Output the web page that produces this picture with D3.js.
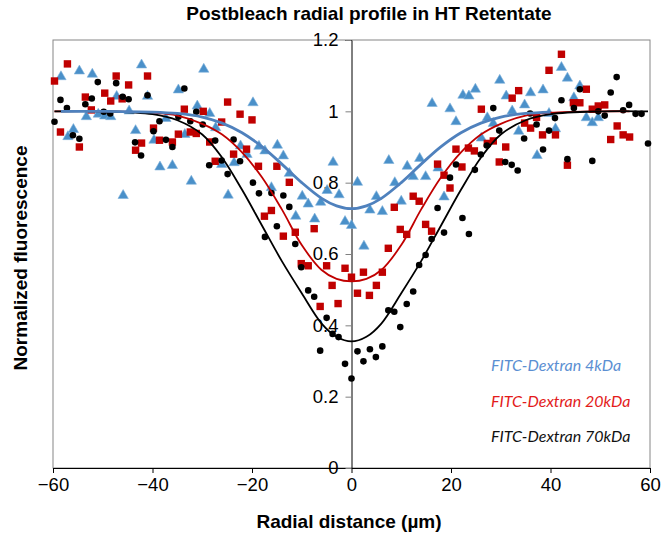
<!DOCTYPE html>
<html>
<head>
<meta charset="utf-8">
<script src="https://cdn.jsdelivr.net/npm/d3@7"></script>
<style>
  body { margin: 0; background: #fff; }
  svg { display: block; }
</style>
</head>
<body>
<div id="chart"></div>
<script>
// x ticks / y ticks
var xTicks = [-60, -40, -20, 0, 20, 40, 60];
var yTicks = [0, 0.2, 0.4, 0.6, 0.8, 1, 1.2];
var yTickLabels = ["0", "0.2", "0.4", "0.6", "0.8", "1", "1.2"];

// measured points [radial distance, normalized fluorescence]
var dex4 = [[-58.4,1.097],[-57.0,0.929],[-55.9,0.949],[-54.7,1.113],[-53.3,0.985],[-52.1,1.104],[-50.9,0.992],
  [-49.6,0.987],[-48.4,0.985],[-47.2,1.042],[-45.9,0.764],[-44.7,1.001],[-43.4,0.946],[-42.2,1.130],[-41.0,1.042],
  [-39.7,0.919],[-38.5,0.844],[-37.3,0.980],[-36.0,0.848],[-34.8,1.060],[-33.5,0.935],[-32.2,0.804],[-31.0,1.015],
  [-29.7,1.118],[-28.5,0.994],[-27.3,0.954],[-26.1,0.851],[-24.8,0.765],[-23.6,0.856],[-22.3,0.903],[-21.0,0.879],
  [-19.8,1.024],[-18.6,0.902],[-17.4,0.889],[-16.1,0.786],[-14.9,0.905],[-13.7,0.875],[-12.5,0.826],[-11.2,0.706],
  [-9.9,0.762],[-8.7,0.740],[-7.4,0.698],[-6.2,0.745],[-4.9,0.778],[-3.7,0.857],[-2.5,0.766],[-1.3,0.691],[0,0.680],
  [1.2,0.801],[2.5,0.622],[3.7,0.723],[5.0,0.761],[6.2,0.719],[7.5,0.862],[8.7,0.800],[10.0,0.748],[11.2,0.846],
  [12.4,0.817],[13.7,0.868],[14.9,0.817],[16.2,1.022],[17.4,0.841],[18.6,0.760],[19.8,1.007],[21.0,0.971],[22.4,1.045],
  [23.6,1.043],[24.9,1.062],[26.1,0.925],[27.3,0.982],[28.5,0.966],[29.8,1.087],[31.1,1.043],[32.3,1.001],[33.6,0.944],
  [34.8,1.018],[36.0,1.052],[37.3,0.876],[38.5,1.060],[39.7,0.994],[41.0,0.951],[42.2,1.123],[43.4,1.093],[44.7,1.038],
  [45.9,1.071],[47.2,0.982],[48.4,0.968],[49.6,0.982]];

var dex20 = [[-59.7,1.085],[-58.5,0.942],[-57.1,1.133],[-54.7,0.900],[-53.5,1.040],[-52.3,1.004],[-49.6,1.051],
  [-48.4,1.029],[-47.3,1.099],[-46.1,1.035],[-44.8,1.074],[-43.4,0.891],[-42.2,0.911],[-41.0,1.099],[-39.8,0.953],
  [-38.6,0.919],[-36.0,0.914],[-34.8,0.936],[-33.6,1.006],[-32.4,0.942],[-31.2,0.938],[-29.8,1.000],[-28.5,0.914],
  [-27.4,0.860],[-26.1,0.970],[-24.9,1.026],[-23.7,0.880],[-22.4,0.992],[-21.1,0.894],[-20.0,0.976],[-18.7,0.846],
  [-17.5,0.706],[-16.1,0.722],[-15.0,0.846],[-13.7,0.650],[-12.5,0.801],[-11.3,0.661],[-10.1,0.573],[-8.7,0.567],
  [-7.5,0.671],[-6.3,0.453],[-5.0,0.567],[-3.9,0.512],[-2.7,0.461],[-1.3,0.560],[0,0.535],[1.2,0.490],[2.4,0.549],
  [3.6,0.484],[5.0,0.512],[6.2,0.549],[7.4,0.616],[8.6,0.731],[9.8,0.669],[11.1,0.655],[12.4,0.762],[13.6,0.748],
  [14.9,0.683],[16.1,0.664],[17.3,0.852],[18.6,0.821],[19.8,0.785],[21.0,0.894],[22.2,0.844],[23.5,0.897],[24.7,0.889],
  [26.1,1.006],[27.3,0.910],[28.5,0.917],[29.7,0.858],[31.0,0.900],[32.3,1.037],[33.6,1.058],[34.8,0.967],[36.0,0.953],
  [37.2,0.983],[38.4,0.934],[39.7,1.115],[41.0,0.934],[42.2,1.160],[43.4,0.849],[44.6,1.024],[45.9,1.024],[47.2,1.062],
  [48.4,1.006],[49.6,1.015],[50.9,1.018],[52.1,0.921],[53.4,0.959],[54.6,0.934],[55.9,0.928]];

var dex70 = [[-59.7,0.971],[-58.5,1.032],[-57.2,1.009],[-56.0,0.933],[-54.7,0.923],[-53.5,1.020],[-52.2,1.036],
  [-51.0,1.082],[-49.8,0.999],[-48.5,0.994],[-47.3,1.079],[-46.0,1.041],[-44.8,1.034],[-43.5,0.913],[-42.3,0.876],
  [-41.0,1.045],[-39.8,0.944],[-38.6,0.972],[-37.3,0.920],[-36.0,0.900],[-34.8,0.985],[-33.6,1.064],[-32.4,0.972],
  [-31.2,0.999],[-29.9,0.963],[-28.6,0.849],[-27.4,0.918],[-26.1,0.862],[-24.9,0.824],[-23.7,0.921],[-22.4,0.860],
  [-19.8,0.800],[-18.6,0.770],[-17.4,0.648],[-16.1,0.771],[-15.0,0.678],[-13.7,0.764],[-12.5,0.732],[-11.3,0.628],
  [-10.1,0.563],[-8.7,0.498],[-7.5,0.480],[-6.3,0.329],[-5.0,0.421],[-3.8,0.376],[-2.6,0.367],[-1.3,0.292],[0,0.251],
  [1.2,0.327],[2.4,0.299],[3.7,0.333],[4.9,0.311],[6.2,0.341],[7.4,0.442],[8.6,0.438],[9.8,0.395],[11.1,0.460],
  [12.4,0.495],[13.6,0.569],[14.9,0.597],[16.1,0.642],[17.3,0.729],[18.6,0.660],[19.8,0.814],[21.0,0.851],[22.3,0.701],
  [23.6,0.656],[24.8,0.836],[26.0,0.879],[27.2,0.904],[28.5,1.009],[29.7,0.946],[30.9,0.858],[32.2,0.850],[33.4,0.834],
  [34.7,0.924],[35.9,0.994],[37.2,0.963],[38.5,0.893],[39.7,0.946],[40.9,0.981],[42.2,1.031],[43.4,0.866],[44.7,1.009],
  [45.9,1.062],[48.4,0.861],[49.6,1.000],[50.9,0.988],[52.1,1.053],[53.3,1.096],[54.6,1.003],[55.8,1.018],[57.1,0.993],
  [58.3,0.993],[59.6,0.910]];

// fitted profiles
var fit4 = [[-58.4,1.0],[-50,1.0],[-40,0.998],[-35,0.994],[-30,0.984],[-26,0.967],[-22,0.940],[-18,0.901],[-14,0.852],
  [-10,0.800],[-6,0.756],[-3,0.735],[0,0.727],[3,0.735],[6,0.756],[10,0.800],[14,0.852],[18,0.901],[22,0.940],
  [26,0.967],[30,0.984],[35,0.994],[40,0.998]];
var fit20 = [[-59.7,1.0],[-50,1.0],[-40,0.996],[-35,0.988],[-30,0.965],[-26,0.935],[-22,0.885],[-18,0.815],[-14,0.725],
  [-10,0.625],[-6,0.555],[-3,0.530],[0,0.523],[3,0.530],[6,0.555],[10,0.625],[14,0.725],[18,0.815],[22,0.885],
  [26,0.935],[30,0.965],[35,0.988],[40,0.996],[50,1.0],[55.9,1.0]];
var fit70 = [[-59.7,1.0],[-50,1.0],[-40,0.992],[-35,0.975],[-30,0.935],[-26,0.870],[-22,0.780],[-18,0.680],[-14,0.580],
  [-10,0.490],[-6,0.405],[-3,0.368],[0,0.355],[3,0.368],[6,0.405],[10,0.490],[14,0.580],[18,0.680],[22,0.780],
  [26,0.870],[30,0.935],[35,0.975],[40,0.992],[50,1.0],[59.6,1.0]];

var legendNames = ["FITC-Dextran 4kDa", "FITC-Dextran 20kDa", "FITC-Dextran 70kDa"];
var legendColors = ["#5b8fd2", "#e31b1b", "#111111"];

var W = 661, H = 537;
var svg = d3.select("#chart").append("svg").attr("width", W).attr("height", H);

var x = d3.scaleLinear().domain([-60, 60]).range([53, 650]);
var y = d3.scaleLinear().domain([0, 1.2]).range([468, 40]);

var sans = "Liberation Sans, Arial, sans-serif";

// plot frame
svg.append("rect")
  .attr("x", x(-60)).attr("y", y(1.2))
  .attr("width", x(60) - x(-60)).attr("height", y(0) - y(1.2))
  .attr("fill", "none").attr("stroke", "#868686").attr("stroke-width", 1);

// x axis
var xAxis = svg.append("g")
  .attr("transform", "translate(0," + y(0) + ")")
  .call(d3.axisBottom(x).tickValues(xTicks).tickSize(5).tickPadding(5).tickFormat(d3.format("d")));
xAxis.select(".domain").attr("stroke", "#000");
xAxis.selectAll("text").attr("font-family", sans)
  .attr("font-size", 18.5).attr("fill", "#000");

// y axis at x = 0
var yAxis = svg.append("g")
  .attr("transform", "translate(" + x(0) + ",0)")
  .call(d3.axisLeft(y).tickValues(yTicks).tickSize(6).tickPadding(7)
    .tickFormat(function (d, i) { return yTickLabels[i]; }));
yAxis.select(".domain").attr("stroke", "#000");
yAxis.selectAll(".tick line").attr("stroke", "#808080");
yAxis.selectAll("text").attr("font-family", sans)
  .attr("font-size", 18.5).attr("fill", "#000");

// markers
svg.append("g").selectAll("path")
  .data(dex4).enter().append("path")
  .attr("d", d3.symbol().type(d3.symbolTriangle).size(46))
  .attr("transform", function (d) { return "translate(" + x(d[0]) + "," + y(d[1]) + ")"; })
  .attr("fill", "#4a90c9").attr("stroke", "#7fb1dc").attr("stroke-width", 0.6);

svg.append("g").selectAll("rect")
  .data(dex20).enter().append("rect")
  .attr("x", function (d) { return x(d[0]) - 3.7; })
  .attr("y", function (d) { return y(d[1]) - 3.7; })
  .attr("width", 7.4).attr("height", 7.4)
  .attr("fill", "#c00000");

svg.append("g").selectAll("circle")
  .data(dex70).enter().append("circle")
  .attr("cx", function (d) { return x(d[0]); })
  .attr("cy", function (d) { return y(d[1]); })
  .attr("r", 3.3)
  .attr("fill", "#000");

// fit lines
var line = d3.line()
  .x(function (d) { return x(d[0]); })
  .y(function (d) { return y(d[1]); })
  .curve(d3.curveCatmullRom.alpha(0.5));

svg.append("path").attr("d", line(fit20)).attr("fill", "none")
  .attr("stroke", "#c00000").attr("stroke-width", 1.8);
svg.append("path").attr("d", line(fit70)).attr("fill", "none")
  .attr("stroke", "#000").attr("stroke-width", 1.8);
svg.append("path").attr("d", line(fit4)).attr("fill", "none")
  .attr("stroke", "#4f81bd").attr("stroke-width", 2.8);

// legend
svg.append("g").selectAll("text")
  .data(legendNames).enter().append("text")
  .attr("x", 491)
  .attr("y", function (d, i) { return 371 + i * 35.5; })
  .attr("font-family", "Lato, sans-serif")
  .attr("font-style", "italic")
  .attr("font-size", 16)
  .attr("fill", function (d, i) { return legendColors[i]; })
  .text(function (d) { return d; });

// titles
svg.append("text")
  .attr("x", 369).attr("y", 20)
  .attr("text-anchor", "middle")
  .attr("font-family", sans)
  .attr("font-weight", "bold").attr("font-size", 19)
  .text("Postbleach radial profile in HT Retentate");

svg.append("text")
  .attr("x", 349).attr("y", 528)
  .attr("text-anchor", "middle")
  .attr("font-family", sans)
  .attr("font-weight", "bold").attr("font-size", 19)
  .text("Radial distance (\u00b5m)");

svg.append("text")
  .attr("transform", "translate(27,258) rotate(-90)")
  .attr("text-anchor", "middle")
  .attr("font-family", sans)
  .attr("font-weight", "bold").attr("font-size", 19)
  .text("Normalized fluorescence");
</script>
</body>
</html>
